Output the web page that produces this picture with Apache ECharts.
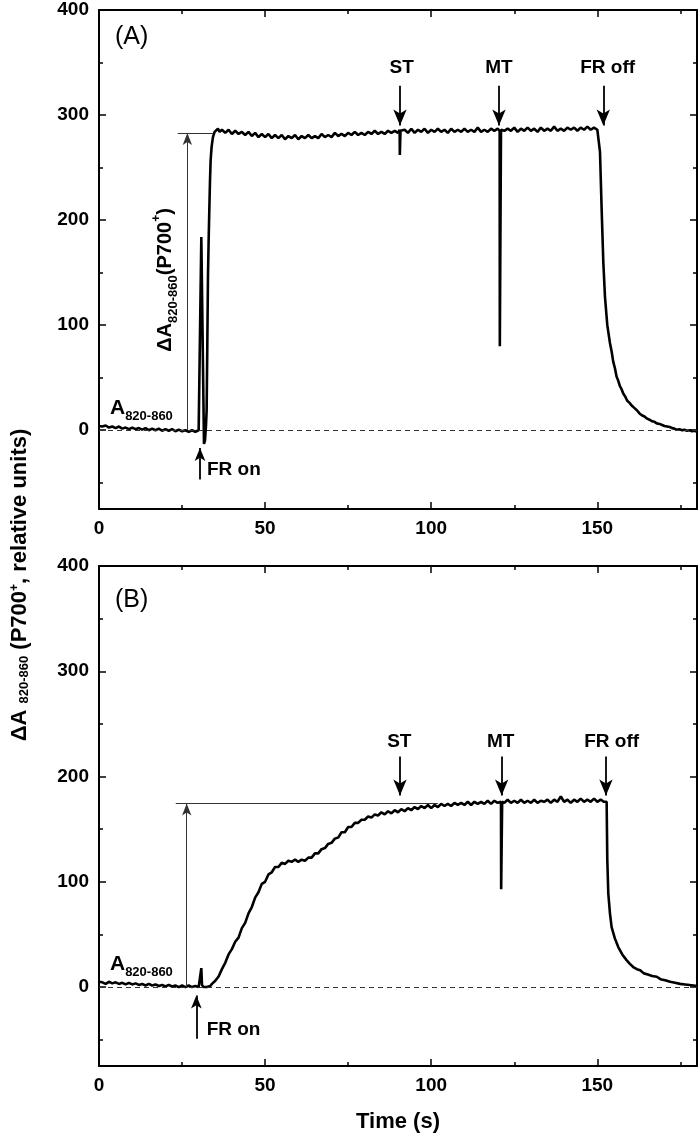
<!DOCTYPE html>
<html><head><meta charset="utf-8">
<script src="https://cdn.jsdelivr.net/npm/echarts@6/dist/echarts.min.js"></script>
<style>html,body{margin:0;padding:0;background:#fff}#c{width:700px;height:1139px}</style>
</head><body><div id="c"></div>
<script>
// ---- axis tick values ----
const xMajor = [0, 50, 100, 150];
const xMinor = [25, 75, 125, 175];
const yMajor = [0, 100, 200, 300, 400];
const yMinor = [-50, 50, 150, 250, 350];

// ---- panel A trace: [time (s), ΔA] ----
const traceA = [
[0,4],[0.5,2.5],[1,3.5],[2,4.5],[3,2.5],[4,3.5],[5,2],[6,3.5],[7,1.5],[8,2.5],[9,1],[10,2.5],[11,1],[12,2],[13,0.5],[14,2],[15,0],[16,1.5],[17,0],[18,1.5],[19,-0.5],[20,1],[21,-0.5],[22,1],[23,-1],[24,0.5],[25,-1],[26,0],[27,-1.5],[28,0],[29,-1.5],[30,0],[30.6,-1],
[30.8,184],[31.6,-13],[31.9,-10],[32.2,4],[32.4,19],[32.6,80],[32.8,146],[33.0,180],[33.2,209],[33.4,236],[33.6,257],[33.9,270],[34.3,279],[34.8,284],[35.3,283],[35.8,287],[36.3,284],
[37,286],[38,283],[39,286],[40,282],[41,285],[42,282],[43,284],[44,281],[45,284],[46,280],[47,283],[48,279],[49,282],[50,279],[51,282],[52,278],[53,281],[54,278],[55,281],[56,277],[57,280],[58,278],[59,281],[60,277],[61,280],[62,278],[63,281],[64,278],[65,280],[66,278],[67,282],[68,279],[69,281],[70,279],[71,283],[72,280],[73,282],[74,280],[75,283],[76,281],[77,284],[78,281],[79,283],[80,281],[81,284],[82,282],[83,285],[84,282],[85,284],[86,282],[87,285],[88,283],[89,285],[90,283],
[90.5,286],[90.55,262],[90.7,262],[90.75,285],
[91,284],[92,286],[93,283],[94,287],[95,283],[96,286],[97,284],[98,287],[99,283],[100,286],[101,284],[102,287],[103,284],[104,286],[105,283],[106,287],[107,284],[108,286],[109,284],[110,287],[111,284],[112,286],[113,284],[114,288],[115,284],[116,286],[117,284],[118,287],[119,285],[120,287],
[120.6,285],[120.65,80],[120.95,80],[121.0,286],
[122,285],[123,287],[124,285],[125,288],[126,284],[127,287],[128,285],[129,288],[130,285],[131,287],[132,284],[133,288],[134,285],[135,287],[136,285],[137,289],[138,285],[139,287],[140,285],[141,288],[142,286],[143,288],[144,285],[145,288],[146,286],[147,289],[148,286],[149,288],[150,286],[150.4,287],
[150.8,265],[151.3,210],[151.8,160],[152.3,127],[153,100],[153.8,83],[154.3,75],[154.8,65],[155.3,59],[155.8,51],[156.3,47],[156.8,42],[157.3,39],[157.8,35],[158.4,32],[159,28],[159.7,26],[160.5,23],[161.2,21],[161.9,19],[162.7,16],[163.5,14],[164.2,13],[165,11],[165.7,10],[166.5,8.5],[167.2,8],[167.9,6.5],[168.7,6],[169.5,5],[170.2,4],[171,3.5],[171.8,3],[172.5,2],[173.2,1.5],[173.9,0.5],[174.7,1],[175.5,0],[176.2,0.5],[177,-0.5],[177.8,0],[178.5,-1],[179.3,-0.5],[180,-1.4]
];

// ---- panel B trace: [time (s), ΔA] ----
const traceB = [
[0,5],[0.5,3.5],[1,4.5],[2,3],[3,5],[4,3.5],[5,4.5],[6,3],[7,4],[8,2.5],[9,4],[10,2.5],[11,3.5],[12,2],[13,3],[14,1.5],[15,3],[16,1.5],[17,2.5],[18,1],[19,2],[20,0.5],[21,2],[22,0.5],[23,1.5],[24,0],[25,1.5],[26,0],[27,1.5],[28,0],[29,1],[30,0],[30.6,1],
[30.8,18],[31.0,2],[31.5,0],[32,1.5],[32.5,0],[33,1.5],[33.5,1],[34,3],[35,6],[36,10],[37,17],[38,23],[39,31],[40,36],[41,43],[42,47],[43,56],[44,61],[45,70],[46,76],[47,85],[48,90],[49,98],[50,100],[51,107],[52,109],[53,114],[54,114],[55,118],[56,117],[57,120],[58,119],[59,121],[60,119],[61,121],[62,120],[63,123],[64,123],[65,127],[66,127],[67,131],[68,132],[69,136],[70,137],[71,141],[72,142],[73,147],[74,147],[75,152],[76,152],[77,156],[78,156],[79,159],[80,159],[81,162],[82,161],[83,164],[84,163],[85,166],[86,164],[87,167],[88,165],[89,168],[90,166],[91,169],[92,167],[93,170],[94,168],[95,171],[96,169],[97,172],[98,170],[99,173],[100,170],[101,173],[102,171],[103,174],[104,172],[105,174],[106,172],[107,175],[108,173],[109,175],[110,173],[111,176],[112,173],[113,176],[114,174],[115,176],[116,174],[117,177],[118,174],[119,177],[120,175],
[121.0,176],[121.05,93],[121.3,93],[121.35,176],
[122,175],[123,178],[124,175],[125,177],[126,175],[127,178],[128,175],[129,177],[130,175],[131,178],[132,175],[133,177],[134,176],[135,178],[136,175],[137,178],[138,176],[139,181],[140,176],[141,178],[142,175],[143,178],[144,176],[145,179],[146,176],[147,178],[148,176],[149,179],[150,176],[151,178],[152,176],[152.6,177],
[152.8,176],[153.0,121],[153.3,89],[153.8,70],[154.3,57],[155.3,46],[156.3,38],[157.5,31],[158.8,25.6],[159.8,22],[160.8,19],[161.9,17],[162.9,16],[164,13],[165.2,12],[166.5,10.5],[167.9,9.8],[169,7.5],[170.4,6.5],[171.9,5],[173.4,4],[174.9,3],[176.4,2.5],[177.9,1.9],[179,1.5],[180,1]
];

const F = '"Liberation Sans", Arial, Helvetica, sans-serif';
const BLACK = '#000';

function xAxes(grid, withName) {
  const base = {gridIndex: grid, type: 'value', min: 0, max: 180, splitLine: {show: false}};
  const tickStyle = {color: BLACK, width: 1.5};
  const major = {
    ...base, position: 'bottom',
    axisLine: {show: true, onZero: false, lineStyle: {color: BLACK, width: 2}},
    axisTick: {show: true, inside: true, length: 7, customValues: xMajor, lineStyle: tickStyle},
    axisLabel: {show: true, customValues: xMajor, margin: 10, color: BLACK, fontSize: 19, fontWeight: 'bold', fontFamily: F}
  };
  if (withName) {
    Object.assign(major, {name: 'Time (s)', nameLocation: 'middle', nameGap: 45,
      nameTextStyle: {color: BLACK, fontSize: 22, fontWeight: 'bold', fontFamily: F}});
  }
  return [
    major,
    {...base, position: 'bottom', axisLine: {show: false, onZero: false},
      axisTick: {show: true, inside: true, length: 4, customValues: xMinor, lineStyle: tickStyle}, axisLabel: {show: false}},
    {...base, position: 'top', axisLine: {show: true, onZero: false, lineStyle: {color: BLACK, width: 2}},
      axisTick: {show: true, inside: true, length: 7, customValues: xMajor, lineStyle: tickStyle}, axisLabel: {show: false}},
    {...base, position: 'top', axisLine: {show: false, onZero: false},
      axisTick: {show: true, inside: true, length: 4, customValues: xMinor, lineStyle: tickStyle}, axisLabel: {show: false}}
  ];
}
function yAxes(grid) {
  const base = {gridIndex: grid, type: 'value', min: -75, max: 400, splitLine: {show: false}};
  const tickStyle = {color: BLACK, width: 1.5};
  return [
    {...base, position: 'left', axisLine: {show: true, onZero: false, lineStyle: {color: BLACK, width: 2}},
      axisTick: {show: true, inside: true, length: 7, customValues: yMajor, lineStyle: tickStyle},
      axisLabel: {show: true, customValues: yMajor, margin: 10, color: BLACK, fontSize: 19, fontWeight: 'bold', fontFamily: F}},
    {...base, position: 'left', axisLine: {show: false, onZero: false},
      axisTick: {show: true, inside: true, length: 4, customValues: yMinor, lineStyle: tickStyle}, axisLabel: {show: false}},
    {...base, position: 'right', axisLine: {show: true, onZero: false, lineStyle: {color: BLACK, width: 2}},
      axisTick: {show: true, inside: true, length: 7, customValues: yMajor, lineStyle: tickStyle}, axisLabel: {show: false}},
    {...base, position: 'right', axisLine: {show: false, onZero: false},
      axisTick: {show: true, inside: true, length: 4, customValues: yMinor, lineStyle: tickStyle}, axisLabel: {show: false}}
  ];
}

// annotation layout (data coordinates)
const annA = {
  dash: [[0, 0], [180, 0]],
  hline: [[23.7, 283], [34.3, 283]],
  vArrow: [[26.6, 0], [26.6, 283]],
  frOn: [[30.4, -47], [30.4, -17]],
  st: [[90.6, 328], [90.6, 290]],
  mt: [[120.4, 328], [120.4, 290]],
  off: [[151.8, 328], [151.8, 290]]
};
const annB = {
  dash: [[0, 0], [180, 0]],
  hline: [[23.1, 174.3], [102, 174.3]],
  vArrow: [[26.4, 0], [26.4, 174.3]],
  frOn: [[29.3, -49], [29.3, -8]],
  st: [[90.6, 219], [90.6, 182]],
  mt: [[121.2, 219], [121.2, 182]],
  off: [[152.6, 219], [152.6, 182]]
};

function seg(a, b, endSymbol, size, style) {
  return [
    {coord: a, symbol: 'none', lineStyle: style},
    {coord: b, symbol: endSymbol, symbolSize: size}
  ];
}
function markLines(an) {
  const thin = {color: '#333', width: 1, type: 'solid'};
  const bold = {color: BLACK, width: 1.8, type: 'solid'};
  return {
    silent: true, animation: false, symbol: ['none', 'none'], label: {show: false},
    emphasis: {disabled: true},
    data: [
      seg(an.dash[0], an.dash[1], 'none', 0, {color: '#333', width: 1.2, type: [5, 4]}),
      seg(an.hline[0], an.hline[1], 'none', 0, thin),
      seg(an.vArrow[0], an.vArrow[1], 'arrow', [7, 12], thin),
      seg(an.frOn[0], an.frOn[1], 'arrow', [8, 13], bold),
      seg(an.st[0], an.st[1], 'arrow', [10, 16], bold),
      seg(an.mt[0], an.mt[1], 'arrow', [10, 16], bold),
      seg(an.off[0], an.off[1], 'arrow', [10, 16], bold)
    ]
  };
}

const chart = echarts.init(document.getElementById('c'), null, {renderer: 'canvas'});
chart.setOption({
  animation: false,
  backgroundColor: '#fff',
  grid: [
    {left: 99, top: 10, width: 598, height: 499},
    {left: 99, top: 566, width: 598, height: 500}
  ],
  xAxis: [...xAxes(0, false), ...xAxes(1, true)],
  yAxis: [...yAxes(0), ...yAxes(1)],
  series: [
    {type: 'line', xAxisIndex: 0, yAxisIndex: 0, data: traceA, showSymbol: false, symbol: 'none',
      lineStyle: {color: BLACK, width: 2.6}, z: 3, markLine: markLines(annA)},
    {type: 'line', xAxisIndex: 4, yAxisIndex: 4, data: traceB, showSymbol: false, symbol: 'none',
      lineStyle: {color: BLACK, width: 2.6}, z: 3, markLine: markLines(annB)}
  ]
});

// ---- text annotations, positioned by data coordinates ----
const subRich = (main, sub, sup) => ({
  a: {fontSize: main, fontWeight: 'bold', fontFamily: F, fill: BLACK, lineHeight: main + 9, verticalAlign: 'middle'},
  s: {fontSize: sub, fontWeight: 'bold', fontFamily: F, fill: BLACK, verticalAlign: 'bottom'},
  p: {fontSize: sup, fontWeight: 'bold', fontFamily: F, fill: BLACK, verticalAlign: 'top'}
});
const textsA = [
  {t: 4.8, v: 374, text: '(A)', align: 'left', size: 25, weight: 'normal'},
  {t: 3.3, v: 21, text: '{a|A}{s|820-860}', align: 'left', rich: subRich(21, 13, 12)},
  {t: 19.9, v: 143, text: '{a|ΔA}{s|820-860}{a|(P700}{p|+}{a|)}', align: 'center', rot: true, rich: subRich(20, 13, 12)},
  {t: 32.5, v: -38, text: 'FR on', align: 'left', size: 19},
  {t: 91.1, v: 345, text: 'ST', align: 'center', size: 19},
  {t: 120.4, v: 345, text: 'MT', align: 'center', size: 19},
  {t: 153.1, v: 345, text: 'FR off', align: 'center', size: 19}
];
const textsB = [
  {t: 4.8, v: 368, text: '(B)', align: 'left', size: 25, weight: 'normal'},
  {t: 3.3, v: 22, text: '{a|A}{s|820-860}', align: 'left', rich: subRich(21, 13, 12)},
  {t: 32.4, v: -41, text: 'FR on', align: 'left', size: 19},
  {t: 90.4, v: 233, text: 'ST', align: 'center', size: 19},
  {t: 120.9, v: 233, text: 'MT', align: 'center', size: 19},
  {t: 154.3, v: 233, text: 'FR off', align: 'center', size: 19}
];

function textEl(si, d) {
  const p = chart.convertToPixel({seriesIndex: si}, [d.t, d.v]);
  const style = {
    text: d.text, fill: BLACK, align: d.align, textAlign: d.align,
    verticalAlign: 'middle', textVerticalAlign: 'middle',
    fontFamily: F, fontSize: d.size || 19, fontWeight: d.weight || 'bold'
  };
  if (d.rich) style.rich = d.rich;
  return {type: 'text', x: p[0], y: p[1], rotation: d.rot ? Math.PI / 2 : 0, silent: true, z: 10, style};
}
const graphics = [
  ...textsA.map(d => textEl(0, d)),
  ...textsB.map(d => textEl(1, d)),
  {type: 'text', x: 20, y: 585, rotation: Math.PI / 2, silent: true, z: 10,
    style: {
      text: '{b|ΔA }{s|820-860}{b| (P700}{p|+}{b|, relative units)}',
      align: 'center', verticalAlign: 'middle', textAlign: 'center', textVerticalAlign: 'middle',
      rich: {
        b: {fontSize: 22, fontWeight: 'bold', fontFamily: F, fill: BLACK, verticalAlign: 'bottom'},
        s: {fontSize: 13, fontWeight: 'bold', fontFamily: F, fill: BLACK, verticalAlign: 'bottom'},
        p: {fontSize: 12, fontWeight: 'bold', fontFamily: F, fill: BLACK, verticalAlign: 'top'}
      }
    }}
];
chart.setOption({graphic: graphics});
</script>
</body></html>
